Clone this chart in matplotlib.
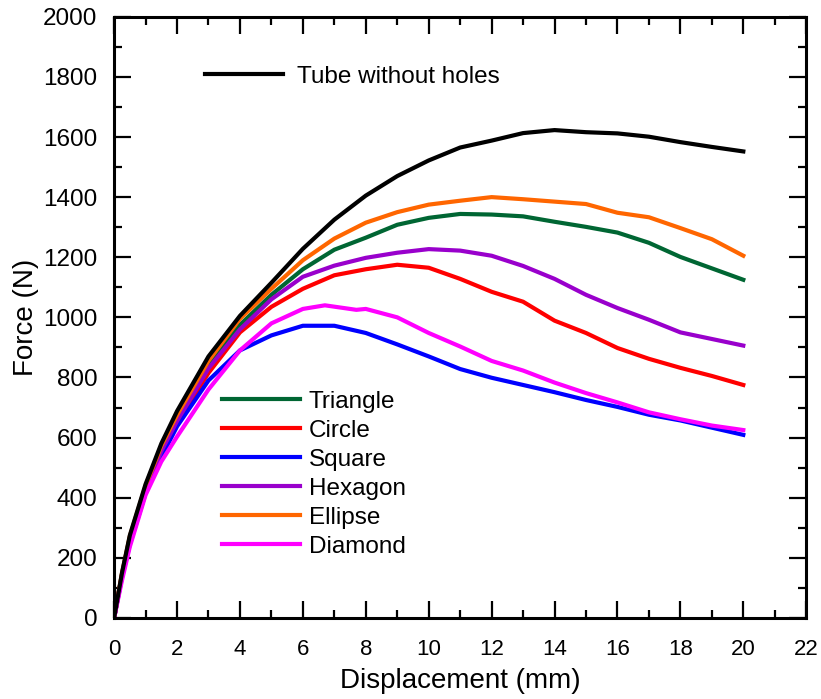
import numpy as np
import matplotlib
matplotlib.use("Agg")
import matplotlib.pyplot as plt
from matplotlib.ticker import MultipleLocator

plt.rcParams['font.family'] = ['Liberation Sans', 'DejaVu Sans']
plt.rcParams['xtick.labelsize'] = 16
plt.rcParams['ytick.labelsize'] = 17.5

# displacement grid (mm)
x = [0, 0.25, 0.5, 1, 1.5, 2, 3, 4, 5, 6, 7, 8, 9, 10, 11, 12, 13, 14, 15, 16, 17, 18, 19, 20]

tube = [0, 150, 275, 445, 580, 688, 870, 1005, 1115, 1228, 1325, 1405, 1470, 1522,
        1565, 1588, 1613, 1623, 1616, 1612, 1601, 1583, 1567, 1552]
ellipse = [0, 148, 272, 440, 572, 675, 855, 995, 1095, 1190, 1262, 1315, 1350, 1375,
           1388, 1400, 1393, 1385, 1377, 1348, 1333, 1297, 1260, 1205]
triangle = [0, 145, 268, 432, 562, 665, 840, 975, 1075, 1160, 1225, 1265, 1308, 1331,
            1344, 1342, 1336, 1318, 1301, 1282, 1248, 1201, 1163, 1125]
hexagon = [0, 142, 263, 425, 555, 655, 830, 960, 1060, 1135, 1172, 1198, 1215, 1227,
           1222, 1205, 1171, 1128, 1075, 1031, 992, 950, 928, 906]
circle = [0, 140, 260, 420, 550, 648, 815, 950, 1035, 1095, 1140, 1160, 1175, 1165,
          1128, 1085, 1052, 989, 948, 898, 862, 832, 805, 775]
square = [0, 135, 245, 415, 535, 637, 790, 890, 940, 972, 972, 948, 910, 870,
          828, 799, 775, 751, 725, 702, 676, 657, 633, 609]

x_diamond = [0, 0.25, 0.5, 1, 1.5, 2, 3, 4, 5, 6, 6.7, 7.7, 8, 9, 10, 11, 12, 13, 14,
             15, 16, 17, 18, 19, 20]
diamond = [0, 125, 237, 409, 520, 603, 760, 890, 980, 1028, 1040, 1025, 1028, 1000, 948,
           903, 855, 823, 783, 748, 717, 684, 661, 640, 625]

fig = plt.figure(figsize=(8.21, 6.99), dpi=100)
ax = fig.add_axes([0.139, 0.116, 0.843, 0.860])

lw = 3
h_tube, = ax.plot(x, tube, color='black', lw=lw, label='Tube without holes', zorder=5)
h_tri, = ax.plot(x, triangle, color='#006633', lw=lw, label='Triangle')
h_cir, = ax.plot(x, circle, color='#ff0000', lw=lw, label='Circle')
h_sq, = ax.plot(x, square, color='#0000ff', lw=lw, label='Square')
h_hex, = ax.plot(x, hexagon, color='#9900cc', lw=lw, label='Hexagon')
h_ell, = ax.plot(x, ellipse, color='#ff6600', lw=lw, label='Ellipse')
h_dia, = ax.plot(x_diamond, diamond, color='#ff00ff', lw=lw, label='Diamond')

ax.set_xlim(0, 22)
ax.set_ylim(0, 2000)
ax.xaxis.set_major_locator(MultipleLocator(2))
ax.xaxis.set_minor_locator(MultipleLocator(1))
ax.yaxis.set_major_locator(MultipleLocator(200))
ax.yaxis.set_minor_locator(MultipleLocator(100))
ax.tick_params(which='both', direction='in', top=True, right=True, width=1.6)
ax.tick_params(which='major', length=12)
ax.tick_params(which='minor', length=6)
ax.tick_params(axis='y', pad=12)
ax.tick_params(axis='x', pad=15)
for s in ax.spines.values():
    s.set_linewidth(2.2)

ax.set_xlabel('Displacement (mm)', fontsize=20, labelpad=6)
ax.set_ylabel('Force (N)', fontsize=20, labelpad=3)

leg1 = ax.legend(handles=[h_tube], loc='center left', bbox_to_anchor=(0.1315, 0.900),
                 frameon=False, fontsize=17.5, handlelength=3.2, handletextpad=0.58,
                 borderpad=0, borderaxespad=0)
ax.add_artist(leg1)
ax.legend(handles=[h_tri, h_cir, h_sq, h_hex, h_ell, h_dia], loc='center left',
          bbox_to_anchor=(0.156, 0.239), frameon=False, fontsize=17.5,
          handlelength=3.2, handletextpad=0.37, labelspacing=0.29,
          borderpad=0, borderaxespad=0)

fig.savefig('out.png', dpi=100)
